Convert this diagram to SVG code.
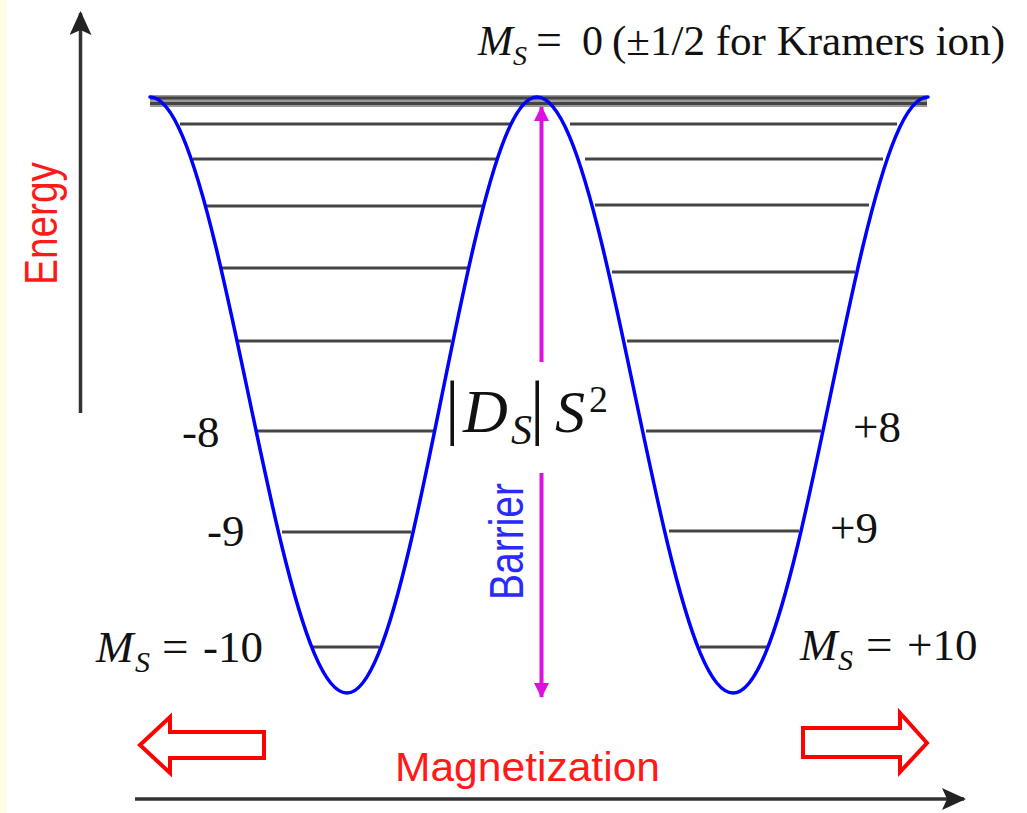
<svg xmlns="http://www.w3.org/2000/svg" width="1027" height="813" viewBox="0 0 1027 813">
<defs>
<style>
.lvl{stroke:#444;stroke-width:3;fill:none}
.ax{stroke:#333;stroke-width:3.5;fill:none}
.serif{font-family:"Liberation Serif","Times New Roman",serif;fill:#111}
.it{font-style:italic}
.sans{font-family:"Liberation Sans",Arial,sans-serif}
.hollow{fill:#fff;stroke:#ff0000;stroke-width:4;stroke-linejoin:miter}
</style>
<marker id="blackHead" viewBox="0 0 24 22" refX="22" refY="11" markerWidth="24" markerHeight="22" markerUnits="userSpaceOnUse" orient="auto">
<path d="M0,0 L24,11 L0,22 L5,11 Z" fill="#222"/>
</marker>
<marker id="magHead" viewBox="0 0 15 15" refX="14" refY="7.5" markerWidth="15" markerHeight="15" markerUnits="userSpaceOnUse" orient="auto">
<path d="M0,0 L15,7.5 L0,15 Z" fill="#dd11dd"/>
</marker>
</defs>
<rect x="0" y="0" width="1027" height="813" fill="#ffffff"/>
<rect x="0" y="0" width="7" height="813" fill="#fffce4"/>

<g id="levels">
<rect x="150" y="95" width="777" height="12" fill="#9a9a9a"/>
<line class="lvl" x1="150" y1="98" x2="927" y2="98" stroke="#666"/>
<line class="lvl" x1="150" y1="103.5" x2="927" y2="103.5" stroke="#666"/>
<line class="lvl" x1="180" y1="124" x2="510" y2="124"/>
<line class="lvl" x1="193" y1="159" x2="497" y2="159"/>
<line class="lvl" x1="205" y1="206" x2="483" y2="206"/>
<line class="lvl" x1="222" y1="268" x2="468" y2="268"/>
<line class="lvl" x1="238" y1="341" x2="451" y2="341"/>
<line class="lvl" x1="257" y1="431" x2="435" y2="431"/>
<line class="lvl" x1="282" y1="532" x2="411" y2="532"/>
<line class="lvl" x1="313" y1="647" x2="379" y2="647"/>
<line class="lvl" x1="570" y1="124" x2="897" y2="124"/>
<line class="lvl" x1="585" y1="159" x2="883" y2="159"/>
<line class="lvl" x1="595" y1="205" x2="869" y2="205"/>
<line class="lvl" x1="612" y1="272" x2="855" y2="272"/>
<line class="lvl" x1="627" y1="341" x2="839" y2="341"/>
<line class="lvl" x1="646" y1="431" x2="821" y2="431"/>
<line class="lvl" x1="669" y1="531" x2="799" y2="531"/>
<line class="lvl" x1="700" y1="647" x2="767" y2="647"/>
</g>

<g id="curve">
<path fill="none" stroke="#0000ff" stroke-width="3.5" stroke-linecap="round" stroke-linejoin="round" d="M150,97 C160.94,97 171.89,110.9 182.83,136.9 C193.77,162.9 204.73,201.0 215.67,246 C226.61,291.0 237.56,343.0 248.5,395 C259.44,447.0 270.39,499.0 281.33,544 C292.27,589.0 303.23,627.1 314.17,653.1 C325.11,679.1 336.06,693 347,693 C357.56,693 368.11,679.1 378.67,653.1 C389.23,627.1 399.77,589.0 410.33,544 C420.89,499.0 431.44,447.0 442,395 C452.56,343.0 463.11,291.0 473.67,246 C484.23,201.0 494.77,162.9 505.33,136.9 C515.89,110.9 526.44,97 537,97 C547.89,97 558.78,110.9 569.67,136.9 C580.56,162.9 591.44,201.0 602.33,246 C613.22,291.0 624.11,343.0 635,395 C645.89,447.0 656.78,499.0 667.67,544 C678.56,589.0 689.44,627.1 700.33,653.1 C711.22,679.1 722.11,693 733,693 C743.83,693 754.67,679.1 765.5,653.1 C776.33,627.1 787.17,589.0 798,544 C808.83,499.0 819.67,447.0 830.5,395 C841.33,343.0 852.17,291.0 863,246 C873.83,201.0 884.67,162.9 895.5,136.9 C906.33,110.9 917.17,97 928,97"/>
</g>

<g id="connectors">
<line class="ax" x1="80.5" y1="413" x2="80.5" y2="13" marker-end="url(#blackHead)"/>
<line class="ax" x1="135" y1="799" x2="964" y2="799" marker-end="url(#blackHead)"/>
<line x1="541.5" y1="362" x2="541.5" y2="107" stroke="#dd11dd" stroke-width="4" marker-end="url(#magHead)"/>
<line x1="541.5" y1="473" x2="541.5" y2="697" stroke="#dd11dd" stroke-width="4" marker-end="url(#magHead)"/>
</g>

<g id="magnet-arrows">
<polygon class="hollow" points="140,745 170,717 170,732 264,732 264,758 170,758 170,773"/>
<polygon class="hollow" points="927,743 900,713 900,728 803,728 803,757 900,757 900,772"/>
</g>

<g id="axis-labels" class="sans">
<text transform="translate(57,223.5) rotate(-90)" text-anchor="middle" font-size="47" fill="#ff1a1a" textLength="123" lengthAdjust="spacingAndGlyphs">Energy</text>
<text transform="translate(523,541.5) rotate(-90)" text-anchor="middle" font-size="48" fill="#2a2aff" textLength="117" lengthAdjust="spacingAndGlyphs">Barrier</text>
<text x="395" y="781" font-size="41" fill="#ff1a1a" textLength="265" lengthAdjust="spacingAndGlyphs">Magnetization</text>
</g>

<g id="top-label" class="serif">
<text class="it" x="478" y="55" font-size="42">M</text>
<text class="it" x="513" y="65" font-size="28">S</text>
<text x="536" y="55" font-size="46">=</text>
<text x="582" y="55" font-size="42">0</text>
<text x="612" y="55" font-size="42" textLength="393" lengthAdjust="spacingAndGlyphs">(±1/2 for Kramers ion)</text>
</g>

<g id="level-labels" class="serif">
<text class="it" x="96" y="662" font-size="45">M</text>
<text class="it" x="135" y="672" font-size="30">S</text>
<text x="162" y="662" font-size="47">=</text>
<text x="203" y="662" font-size="45">-10</text>
<text class="it" x="800" y="660" font-size="45">M</text>
<text class="it" x="838" y="670" font-size="30">S</text>
<text x="866" y="660" font-size="47">=</text>
<text x="907" y="660" font-size="45">+10</text>
<text x="182" y="447" font-size="45">-8</text>
<text x="207" y="546" font-size="45">-9</text>
<text x="853" y="442" font-size="45">+8</text>
<text x="830" y="543" font-size="45">+9</text>
</g>

<g id="barrier-label" class="serif">
<text x="445" y="431" font-size="72">|</text>
<text class="it" x="463" y="432" font-size="62">D</text>
<text class="it" x="511" y="444" font-size="42">S</text>
<text x="530" y="431" font-size="72">|</text>
<text class="it" x="555" y="432" font-size="60">S</text>
<text x="589" y="412" font-size="38">2</text>
</g>
</svg>
